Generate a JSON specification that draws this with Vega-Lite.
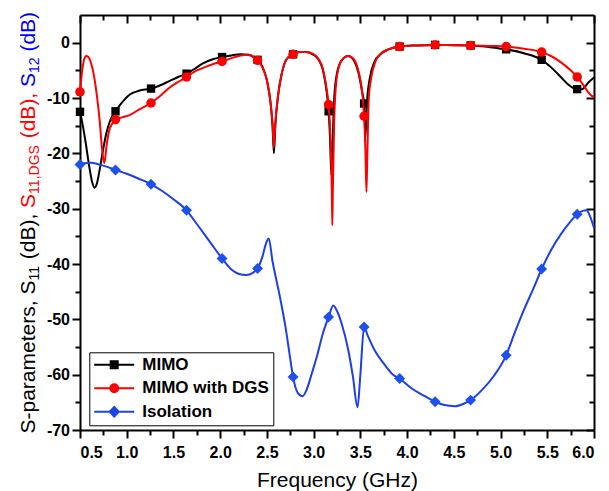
{
  "$schema": "https://vega.github.io/schema/vega-lite/v6.json",
  "autosize": {"type": "none"},
  "padding": {"left": 80, "top": 15, "right": 15, "bottom": 61},
  "width": 514,
  "height": 415,
  "background": "white",
  "config": {
    "view": {"stroke": null},
    "axis": {
      "grid": false,
      "domainColor": "black",
      "domainWidth": 2,
      "tickColor": "black",
      "tickWidth": 2,
      "labelFont": "Liberation Sans",
      "labelFontWeight": "bold",
      "labelFontSize": 16,
      "labelColor": "black",
      "titleFont": "Liberation Sans",
      "titleFontWeight": "normal",
      "titleColor": "black"
    },
    "legend": {
      "orient": "none",
      "legendX": 9.3,
      "legendY": 337.3,
      "strokeColor": "black",
      "fillColor": "white",
      "padding": 4,
      "title": null,
      "labelFont": "Liberation Sans",
      "labelFontSize": 17,
      "labelFontWeight": "bold",
      "labelColor": "black",
      "labelOffset": 32,
      "labelLimit": 400,
      "symbolSize": 100,
      "symbolStrokeWidth": 2,
      "symbolOpacity": 1,
      "rowPadding": 5.5
    }
  },
  "datasets": {
    "curves": [
      {"s": "MIMO", "f": 0.50, "v": -12.5}, {"s": "MIMO", "f": 0.53, "v": -15.0}, {"s": "MIMO", "f": 0.56, "v": -18.0},
      {"s": "MIMO", "f": 0.60, "v": -22.5}, {"s": "MIMO", "f": 0.63, "v": -25.2}, {"s": "MIMO", "f": 0.655, "v": -26.2},
      {"s": "MIMO", "f": 0.68, "v": -25.5}, {"s": "MIMO", "f": 0.71, "v": -23.0}, {"s": "MIMO", "f": 0.74, "v": -20.0},
      {"s": "MIMO", "f": 0.78, "v": -16.5}, {"s": "MIMO", "f": 0.82, "v": -14.2}, {"s": "MIMO", "f": 0.88, "v": -12.4},
      {"s": "MIMO", "f": 0.95, "v": -10.8}, {"s": "MIMO", "f": 1.03, "v": -9.4}, {"s": "MIMO", "f": 1.13, "v": -8.7},
      {"s": "MIMO", "f": 1.26, "v": -8.3}, {"s": "MIMO", "f": 1.36, "v": -7.7}, {"s": "MIMO", "f": 1.46, "v": -6.9},
      {"s": "MIMO", "f": 1.55, "v": -6.2}, {"s": "MIMO", "f": 1.64, "v": -5.6}, {"s": "MIMO", "f": 1.72, "v": -4.8},
      {"s": "MIMO", "f": 1.81, "v": -3.8}, {"s": "MIMO", "f": 1.92, "v": -3.0}, {"s": "MIMO", "f": 2.02, "v": -2.6},
      {"s": "MIMO", "f": 2.12, "v": -2.3}, {"s": "MIMO", "f": 2.22, "v": -2.1}, {"s": "MIMO", "f": 2.30, "v": -2.2},
      {"s": "MIMO", "f": 2.36, "v": -2.6}, {"s": "MIMO", "f": 2.40, "v": -3.1}, {"s": "MIMO", "f": 2.45, "v": -4.3},
      {"s": "MIMO", "f": 2.50, "v": -6.8}, {"s": "MIMO", "f": 2.54, "v": -11.0}, {"s": "MIMO", "f": 2.56, "v": -15.0},
      {"s": "MIMO", "f": 2.575, "v": -20.0}, {"s": "MIMO", "f": 2.59, "v": -15.0}, {"s": "MIMO", "f": 2.62, "v": -9.5},
      {"s": "MIMO", "f": 2.66, "v": -5.5}, {"s": "MIMO", "f": 2.71, "v": -3.0}, {"s": "MIMO", "f": 2.78, "v": -2.1},
      {"s": "MIMO", "f": 2.85, "v": -1.7}, {"s": "MIMO", "f": 2.92, "v": -1.7}, {"s": "MIMO", "f": 2.99, "v": -2.1},
      {"s": "MIMO", "f": 3.05, "v": -3.0}, {"s": "MIMO", "f": 3.10, "v": -5.0}, {"s": "MIMO", "f": 3.14, "v": -9.0},
      {"s": "MIMO", "f": 3.16, "v": -12.4}, {"s": "MIMO", "f": 3.175, "v": -17.0}, {"s": "MIMO", "f": 3.19, "v": -24.0},
      {"s": "MIMO", "f": 3.205, "v": -17.0}, {"s": "MIMO", "f": 3.22, "v": -10.0}, {"s": "MIMO", "f": 3.25, "v": -5.5},
      {"s": "MIMO", "f": 3.30, "v": -3.2}, {"s": "MIMO", "f": 3.37, "v": -2.4}, {"s": "MIMO", "f": 3.43, "v": -3.2},
      {"s": "MIMO", "f": 3.48, "v": -5.5}, {"s": "MIMO", "f": 3.52, "v": -9.0}, {"s": "MIMO", "f": 3.54, "v": -11.0},
      {"s": "MIMO", "f": 3.555, "v": -17.0}, {"s": "MIMO", "f": 3.57, "v": -11.0}, {"s": "MIMO", "f": 3.60, "v": -6.5},
      {"s": "MIMO", "f": 3.65, "v": -3.5}, {"s": "MIMO", "f": 3.72, "v": -2.0}, {"s": "MIMO", "f": 3.80, "v": -1.2},
      {"s": "MIMO", "f": 3.92, "v": -0.7}, {"s": "MIMO", "f": 4.10, "v": -0.5}, {"s": "MIMO", "f": 4.30, "v": -0.4},
      {"s": "MIMO", "f": 4.50, "v": -0.45}, {"s": "MIMO", "f": 4.68, "v": -0.5}, {"s": "MIMO", "f": 4.88, "v": -0.8},
      {"s": "MIMO", "f": 5.06, "v": -1.2}, {"s": "MIMO", "f": 5.25, "v": -1.9}, {"s": "MIMO", "f": 5.44, "v": -3.1},
      {"s": "MIMO", "f": 5.55, "v": -4.6}, {"s": "MIMO", "f": 5.65, "v": -6.3}, {"s": "MIMO", "f": 5.72, "v": -7.5},
      {"s": "MIMO", "f": 5.82, "v": -8.4}, {"s": "MIMO", "f": 5.87, "v": -8.4}, {"s": "MIMO", "f": 5.94, "v": -7.2},
      {"s": "MIMO", "f": 6.00, "v": -6.3},

      {"s": "MIMO with DGS", "f": 0.50, "v": -8.9}, {"s": "MIMO with DGS", "f": 0.52, "v": -5.5}, {"s": "MIMO with DGS", "f": 0.545, "v": -3.0},
      {"s": "MIMO with DGS", "f": 0.566, "v": -2.4}, {"s": "MIMO with DGS", "f": 0.59, "v": -2.6}, {"s": "MIMO with DGS", "f": 0.62, "v": -3.8},
      {"s": "MIMO with DGS", "f": 0.65, "v": -6.0}, {"s": "MIMO with DGS", "f": 0.68, "v": -9.5}, {"s": "MIMO with DGS", "f": 0.71, "v": -14.0},
      {"s": "MIMO with DGS", "f": 0.735, "v": -19.0}, {"s": "MIMO with DGS", "f": 0.76, "v": -21.8}, {"s": "MIMO with DGS", "f": 0.785, "v": -18.5},
      {"s": "MIMO with DGS", "f": 0.81, "v": -16.0}, {"s": "MIMO with DGS", "f": 0.85, "v": -14.5}, {"s": "MIMO with DGS", "f": 0.88, "v": -13.9},
      {"s": "MIMO with DGS", "f": 0.95, "v": -13.5}, {"s": "MIMO with DGS", "f": 1.03, "v": -13.1}, {"s": "MIMO with DGS", "f": 1.13, "v": -12.1},
      {"s": "MIMO with DGS", "f": 1.26, "v": -10.9}, {"s": "MIMO with DGS", "f": 1.36, "v": -9.6}, {"s": "MIMO with DGS", "f": 1.46, "v": -8.1},
      {"s": "MIMO with DGS", "f": 1.55, "v": -7.1}, {"s": "MIMO with DGS", "f": 1.64, "v": -6.2}, {"s": "MIMO with DGS", "f": 1.72, "v": -5.3},
      {"s": "MIMO with DGS", "f": 1.81, "v": -4.6}, {"s": "MIMO with DGS", "f": 1.92, "v": -3.9}, {"s": "MIMO with DGS", "f": 2.02, "v": -3.4},
      {"s": "MIMO with DGS", "f": 2.12, "v": -2.8}, {"s": "MIMO with DGS", "f": 2.22, "v": -2.3}, {"s": "MIMO with DGS", "f": 2.30, "v": -2.2},
      {"s": "MIMO with DGS", "f": 2.36, "v": -2.6}, {"s": "MIMO with DGS", "f": 2.40, "v": -3.2}, {"s": "MIMO with DGS", "f": 2.45, "v": -4.3},
      {"s": "MIMO with DGS", "f": 2.50, "v": -6.8}, {"s": "MIMO with DGS", "f": 2.54, "v": -11.0}, {"s": "MIMO with DGS", "f": 2.56, "v": -14.5},
      {"s": "MIMO with DGS", "f": 2.575, "v": -19.0}, {"s": "MIMO with DGS", "f": 2.59, "v": -14.5}, {"s": "MIMO with DGS", "f": 2.62, "v": -9.5},
      {"s": "MIMO with DGS", "f": 2.66, "v": -5.5}, {"s": "MIMO with DGS", "f": 2.71, "v": -3.0}, {"s": "MIMO with DGS", "f": 2.78, "v": -2.1},
      {"s": "MIMO with DGS", "f": 2.85, "v": -1.7}, {"s": "MIMO with DGS", "f": 2.92, "v": -1.7}, {"s": "MIMO with DGS", "f": 2.99, "v": -2.0},
      {"s": "MIMO with DGS", "f": 3.05, "v": -2.9}, {"s": "MIMO with DGS", "f": 3.10, "v": -4.8}, {"s": "MIMO with DGS", "f": 3.14, "v": -8.5},
      {"s": "MIMO with DGS", "f": 3.16, "v": -11.2}, {"s": "MIMO with DGS", "f": 3.18, "v": -17.0}, {"s": "MIMO with DGS", "f": 3.195, "v": -27.0},
      {"s": "MIMO with DGS", "f": 3.20, "v": -33.0}, {"s": "MIMO with DGS", "f": 3.205, "v": -27.0}, {"s": "MIMO with DGS", "f": 3.22, "v": -14.0},
      {"s": "MIMO with DGS", "f": 3.25, "v": -6.0}, {"s": "MIMO with DGS", "f": 3.30, "v": -3.2}, {"s": "MIMO with DGS", "f": 3.37, "v": -2.4},
      {"s": "MIMO with DGS", "f": 3.43, "v": -3.0}, {"s": "MIMO with DGS", "f": 3.48, "v": -5.2}, {"s": "MIMO with DGS", "f": 3.52, "v": -9.0},
      {"s": "MIMO with DGS", "f": 3.54, "v": -13.3}, {"s": "MIMO with DGS", "f": 3.555, "v": -20.0}, {"s": "MIMO with DGS", "f": 3.565, "v": -27.0},
      {"s": "MIMO with DGS", "f": 3.575, "v": -20.0}, {"s": "MIMO with DGS", "f": 3.59, "v": -10.0}, {"s": "MIMO with DGS", "f": 3.62, "v": -6.0},
      {"s": "MIMO with DGS", "f": 3.66, "v": -3.5}, {"s": "MIMO with DGS", "f": 3.72, "v": -2.0}, {"s": "MIMO with DGS", "f": 3.80, "v": -1.2},
      {"s": "MIMO with DGS", "f": 3.92, "v": -0.7}, {"s": "MIMO with DGS", "f": 4.10, "v": -0.5}, {"s": "MIMO with DGS", "f": 4.30, "v": -0.4},
      {"s": "MIMO with DGS", "f": 4.50, "v": -0.45}, {"s": "MIMO with DGS", "f": 4.68, "v": -0.5}, {"s": "MIMO with DGS", "f": 4.88, "v": -0.6},
      {"s": "MIMO with DGS", "f": 5.06, "v": -0.7}, {"s": "MIMO with DGS", "f": 5.25, "v": -1.1}, {"s": "MIMO with DGS", "f": 5.44, "v": -1.7},
      {"s": "MIMO with DGS", "f": 5.55, "v": -2.5}, {"s": "MIMO with DGS", "f": 5.65, "v": -3.6}, {"s": "MIMO with DGS", "f": 5.75, "v": -5.0},
      {"s": "MIMO with DGS", "f": 5.82, "v": -6.2}, {"s": "MIMO with DGS", "f": 5.90, "v": -8.0}, {"s": "MIMO with DGS", "f": 5.95, "v": -9.2},
      {"s": "MIMO with DGS", "f": 6.00, "v": -9.9},

      {"s": "Isolation", "f": 0.50, "v": -22.0}, {"s": "Isolation", "f": 0.55, "v": -21.8}, {"s": "Isolation", "f": 0.62, "v": -21.7},
      {"s": "Isolation", "f": 0.70, "v": -22.0}, {"s": "Isolation", "f": 0.80, "v": -22.5}, {"s": "Isolation", "f": 0.88, "v": -23.0},
      {"s": "Isolation", "f": 1.00, "v": -23.7}, {"s": "Isolation", "f": 1.13, "v": -24.6}, {"s": "Isolation", "f": 1.26, "v": -25.6},
      {"s": "Isolation", "f": 1.38, "v": -26.8}, {"s": "Isolation", "f": 1.50, "v": -28.3}, {"s": "Isolation", "f": 1.64, "v": -30.3},
      {"s": "Isolation", "f": 1.76, "v": -33.0}, {"s": "Isolation", "f": 1.89, "v": -36.0}, {"s": "Isolation", "f": 2.02, "v": -39.0},
      {"s": "Isolation", "f": 2.12, "v": -41.0}, {"s": "Isolation", "f": 2.20, "v": -41.8}, {"s": "Isolation", "f": 2.28, "v": -42.0},
      {"s": "Isolation", "f": 2.35, "v": -41.6}, {"s": "Isolation", "f": 2.40, "v": -40.8}, {"s": "Isolation", "f": 2.45, "v": -38.8},
      {"s": "Isolation", "f": 2.49, "v": -36.3}, {"s": "Isolation", "f": 2.52, "v": -35.4}, {"s": "Isolation", "f": 2.56, "v": -39.5},
      {"s": "Isolation", "f": 2.60, "v": -42.8}, {"s": "Isolation", "f": 2.64, "v": -46.0}, {"s": "Isolation", "f": 2.70, "v": -51.5},
      {"s": "Isolation", "f": 2.74, "v": -56.0}, {"s": "Isolation", "f": 2.78, "v": -60.4}, {"s": "Isolation", "f": 2.83, "v": -63.3},
      {"s": "Isolation", "f": 2.88, "v": -63.9}, {"s": "Isolation", "f": 2.93, "v": -62.5}, {"s": "Isolation", "f": 2.98, "v": -59.8},
      {"s": "Isolation", "f": 3.03, "v": -57.0}, {"s": "Isolation", "f": 3.10, "v": -52.5}, {"s": "Isolation", "f": 3.16, "v": -49.6},
      {"s": "Isolation", "f": 3.21, "v": -47.5}, {"s": "Isolation", "f": 3.25, "v": -48.5}, {"s": "Isolation", "f": 3.30, "v": -50.8},
      {"s": "Isolation", "f": 3.37, "v": -55.5}, {"s": "Isolation", "f": 3.42, "v": -60.3}, {"s": "Isolation", "f": 3.47, "v": -65.9},
      {"s": "Isolation", "f": 3.50, "v": -60.0}, {"s": "Isolation", "f": 3.54, "v": -51.4}, {"s": "Isolation", "f": 3.58, "v": -53.0},
      {"s": "Isolation", "f": 3.65, "v": -55.5}, {"s": "Isolation", "f": 3.76, "v": -58.2}, {"s": "Isolation", "f": 3.85, "v": -60.0},
      {"s": "Isolation", "f": 3.92, "v": -60.7}, {"s": "Isolation", "f": 4.05, "v": -62.5}, {"s": "Isolation", "f": 4.18, "v": -63.8},
      {"s": "Isolation", "f": 4.30, "v": -64.9}, {"s": "Isolation", "f": 4.40, "v": -65.5}, {"s": "Isolation", "f": 4.51, "v": -65.7},
      {"s": "Isolation", "f": 4.60, "v": -65.3}, {"s": "Isolation", "f": 4.68, "v": -64.6}, {"s": "Isolation", "f": 4.80, "v": -62.8},
      {"s": "Isolation", "f": 4.93, "v": -60.2}, {"s": "Isolation", "f": 5.06, "v": -56.5}, {"s": "Isolation", "f": 5.15, "v": -52.5},
      {"s": "Isolation", "f": 5.25, "v": -48.3}, {"s": "Isolation", "f": 5.35, "v": -44.5}, {"s": "Isolation", "f": 5.44, "v": -40.9},
      {"s": "Isolation", "f": 5.55, "v": -37.2}, {"s": "Isolation", "f": 5.65, "v": -34.5}, {"s": "Isolation", "f": 5.75, "v": -32.3},
      {"s": "Isolation", "f": 5.82, "v": -31.0}, {"s": "Isolation", "f": 5.88, "v": -30.4}, {"s": "Isolation", "f": 5.92, "v": -30.3},
      {"s": "Isolation", "f": 5.96, "v": -31.5}, {"s": "Isolation", "f": 6.00, "v": -33.5}
    ],
    "markers": [
      {"s": "MIMO", "f": 0.50, "v": -12.5}, {"s": "MIMO", "f": 0.88, "v": -12.4}, {"s": "MIMO", "f": 1.26, "v": -8.3},
      {"s": "MIMO", "f": 1.64, "v": -5.6}, {"s": "MIMO", "f": 2.02, "v": -2.6}, {"s": "MIMO", "f": 2.40, "v": -3.1},
      {"s": "MIMO", "f": 2.78, "v": -2.1}, {"s": "MIMO", "f": 3.16, "v": -12.4}, {"s": "MIMO", "f": 3.54, "v": -11.0},
      {"s": "MIMO", "f": 3.92, "v": -0.7}, {"s": "MIMO", "f": 4.30, "v": -0.4}, {"s": "MIMO", "f": 4.68, "v": -0.5},
      {"s": "MIMO", "f": 5.06, "v": -1.2}, {"s": "MIMO", "f": 5.44, "v": -3.1}, {"s": "MIMO", "f": 5.82, "v": -8.4},
      {"s": "MIMO with DGS", "f": 0.50, "v": -8.9}, {"s": "MIMO with DGS", "f": 0.88, "v": -13.9}, {"s": "MIMO with DGS", "f": 1.26, "v": -10.9},
      {"s": "MIMO with DGS", "f": 1.64, "v": -6.2}, {"s": "MIMO with DGS", "f": 2.02, "v": -3.4}, {"s": "MIMO with DGS", "f": 2.40, "v": -3.2},
      {"s": "MIMO with DGS", "f": 2.78, "v": -2.1}, {"s": "MIMO with DGS", "f": 3.16, "v": -11.2}, {"s": "MIMO with DGS", "f": 3.54, "v": -13.3},
      {"s": "MIMO with DGS", "f": 3.92, "v": -0.7}, {"s": "MIMO with DGS", "f": 4.30, "v": -0.4}, {"s": "MIMO with DGS", "f": 4.68, "v": -0.5},
      {"s": "MIMO with DGS", "f": 5.06, "v": -0.7}, {"s": "MIMO with DGS", "f": 5.44, "v": -1.7}, {"s": "MIMO with DGS", "f": 5.82, "v": -6.2},
      {"s": "Isolation", "f": 0.50, "v": -22.0}, {"s": "Isolation", "f": 0.88, "v": -23.0}, {"s": "Isolation", "f": 1.26, "v": -25.6},
      {"s": "Isolation", "f": 1.64, "v": -30.3}, {"s": "Isolation", "f": 2.02, "v": -39.0}, {"s": "Isolation", "f": 2.40, "v": -40.8},
      {"s": "Isolation", "f": 2.78, "v": -60.4}, {"s": "Isolation", "f": 3.16, "v": -49.6}, {"s": "Isolation", "f": 3.54, "v": -51.4},
      {"s": "Isolation", "f": 3.92, "v": -60.7}, {"s": "Isolation", "f": 4.30, "v": -64.9}, {"s": "Isolation", "f": 4.68, "v": -64.6},
      {"s": "Isolation", "f": 5.06, "v": -56.5}, {"s": "Isolation", "f": 5.44, "v": -40.9}, {"s": "Isolation", "f": 5.82, "v": -31.0}
    ]
  },
  "resolve": {"axis": {"x": "independent", "y": "independent"}},
  "layer": [
    {
      "data": {"name": "curves"},
      "transform": [{"filter": "datum.s === 'MIMO'"}],
      "mark": {"type": "line", "color": "black", "strokeWidth": 2, "interpolate": "monotone"},
      "encoding": {
        "x": {"field": "f", "type": "quantitative", "scale": {"domain": [0.5, 6], "nice": false, "zero": false},
          "axis": {"orient": "bottom", "values": [0.5, 1, 1.5, 2, 2.5, 3, 3.5, 4, 4.5, 5, 5.5, 6], "labelExpr": "format(datum.value, '.1f')", "tickSize": 8, "labelPadding": 6, "domain": true,
            "title": "Frequency (GHz)", "titleFontSize": 21, "titleY": 56, "titleBaseline": "alphabetic"}},
        "y": {"field": "v", "type": "quantitative", "scale": {"domain": [-70, 5], "nice": false, "zero": false},
          "axis": {"orient": "left", "values": [-70, -60, -50, -40, -30, -20, -10, 0], "labelExpr": "'' + datum.value", "tickSize": 8, "labelPadding": 2.5, "domain": true,
            "title": "S-parameters, S", "titleFontSize": 21, "titleColor": "black", "titleAngle": 270, "titleAlign": "left", "titleBaseline": "alphabetic", "titleX": -46, "titleY": 418}}
      }
    },
    {
      "data": {"name": "markers"},
      "transform": [{"filter": "datum.s === 'MIMO'"}],
      "mark": {"type": "point", "shape": "square", "filled": true, "color": "black", "opacity": 1, "size": 70},
      "encoding": {
        "x": {"field": "f", "type": "quantitative", "scale": {"domain": [0.5, 6], "nice": false, "zero": false},
          "axis": {"orient": "bottom", "values": [0.75, 1.25, 1.75, 2.25, 2.75, 3.25, 3.75, 4.25, 4.75, 5.25, 5.75], "labels": false, "tickSize": 5, "domain": false, "title": null}},
        "y": {"field": "v", "type": "quantitative", "scale": {"domain": [-70, 5], "nice": false, "zero": false},
          "axis": {"orient": "left", "values": [-65, -55, -45, -35, -25, -15, -5], "labels": false, "tickSize": 5, "domain": false,
            "title": "11", "titleFontSize": 14, "titleColor": "black", "titleAngle": 270, "titleAlign": "left", "titleBaseline": "alphabetic", "titleX": -42, "titleY": 265.1}}
      }
    },
    {
      "data": {"name": "curves"},
      "transform": [{"filter": "datum.s === 'MIMO with DGS'"}],
      "mark": {"type": "line", "color": "#ff0000", "strokeWidth": 2, "interpolate": "monotone"},
      "encoding": {
        "x": {"field": "f", "type": "quantitative", "scale": {"domain": [0.5, 6], "nice": false, "zero": false},
          "axis": {"orient": "top", "values": [0.5, 1, 1.5, 2, 2.5, 3, 3.5, 4, 4.5, 5, 5.5, 6], "labels": false, "tickSize": -8, "domain": true, "title": null}},
        "y": {"field": "v", "type": "quantitative", "scale": {"domain": [-70, 5], "nice": false, "zero": false},
          "axis": {"orient": "right", "values": [-70, -60, -50, -40, -30, -20, -10, 0], "labels": false, "tickSize": -8, "domain": true, "title": null}}
      }
    },
    {
      "data": {"name": "markers"},
      "transform": [{"filter": "datum.s === 'MIMO with DGS'"}],
      "mark": {"type": "point", "shape": "circle", "filled": true, "color": "#ff0000", "opacity": 1, "size": 90},
      "encoding": {
        "x": {"field": "f", "type": "quantitative", "scale": {"domain": [0.5, 6], "nice": false, "zero": false},
          "axis": {"orient": "top", "values": [0.75, 1.25, 1.75, 2.25, 2.75, 3.25, 3.75, 4.25, 4.75, 5.25, 5.75], "labels": false, "tickSize": -5, "domain": false, "title": null}},
        "y": {"field": "v", "type": "quantitative", "scale": {"domain": [-70, 5], "nice": false, "zero": false},
          "axis": {"orient": "right", "values": [-65, -55, -45, -35, -25, -15, -5], "labels": false, "tickSize": -5, "domain": false, "title": null}}
      }
    },
    {
      "data": {"name": "curves"},
      "transform": [{"filter": "datum.s === 'Isolation'"}],
      "mark": {"type": "line", "color": "#1e3ee6", "strokeWidth": 2, "interpolate": "monotone"},
      "encoding": {
        "x": {"field": "f", "type": "quantitative", "scale": {"domain": [0.5, 6], "nice": false, "zero": false}, "axis": null},
        "y": {"field": "v", "type": "quantitative", "scale": {"domain": [-70, 5], "nice": false, "zero": false},
          "axis": {"orient": "left", "labels": false, "ticks": false, "domain": false,
            "title": "(dB),", "titleFontSize": 21, "titleColor": "black", "titleAngle": 270, "titleAlign": "left", "titleBaseline": "alphabetic", "titleX": -46, "titleY": 243.7}}
      }
    },
    {
      "data": {"name": "markers"},
      "transform": [{"filter": "datum.s === 'Isolation'"}],
      "mark": {"type": "point", "shape": "diamond", "filled": true, "color": "#1e50ee", "opacity": 1, "size": 120},
      "encoding": {
        "x": {"field": "f", "type": "quantitative", "scale": {"domain": [0.5, 6], "nice": false, "zero": false}, "axis": null},
        "y": {"field": "v", "type": "quantitative", "scale": {"domain": [-70, 5], "nice": false, "zero": false},
          "axis": {"orient": "left", "labels": false, "ticks": false, "domain": false,
            "title": "S", "titleFontSize": 21, "titleColor": "#ff0000", "titleAngle": 270, "titleAlign": "left", "titleBaseline": "alphabetic", "titleX": -46, "titleY": 192.4}}
      }
    },
    {
      "data": {"name": "markers"},
      "transform": [{"filter": "datum.f === 0.5"}],
      "mark": {"type": "point", "filled": true, "opacity": 0},
      "encoding": {
        "x": {"field": "f", "type": "quantitative", "scale": {"domain": [0.5, 6], "nice": false, "zero": false}, "axis": null},
        "y": {"field": "v", "type": "quantitative", "scale": {"domain": [-70, 5], "nice": false, "zero": false},
          "axis": {"orient": "left", "labels": false, "ticks": false, "domain": false,
            "title": "11,DGS", "titleFontSize": 14, "titleColor": "#ff0000", "titleAngle": 270, "titleAlign": "left", "titleBaseline": "alphabetic", "titleX": -42, "titleY": 178.4}},
        "fill": {"field": "s", "type": "nominal", "scale": {"domain": ["MIMO", "MIMO with DGS", "Isolation"], "range": ["black", "#ff0000", "#1e44ea"]}},
        "stroke": {"field": "s", "type": "nominal", "scale": {"domain": ["MIMO", "MIMO with DGS", "Isolation"], "range": ["black", "#ff0000", "#1e44ea"]}},
        "shape": {"field": "s", "type": "nominal", "scale": {"domain": ["MIMO", "MIMO with DGS", "Isolation"], "range": [
          "M-1.52,0H6.48M1.78,-0.7H3.18V0.7H1.78Z",
          "M-1.52,0H6.48M3.28,0A0.8,0.8,0,1,1,1.68,0A0.8,0.8,0,1,1,3.28,0Z",
          "M-1.52,0H6.48M2.48,-0.95L3.38,0L2.48,0.95L1.58,0Z"
        ]}}
      }
    },
    {
      "data": {"name": "markers"},
      "mark": {"type": "point", "opacity": 0},
      "encoding": {
        "x": {"field": "f", "type": "quantitative", "scale": {"domain": [0.5, 6], "nice": false, "zero": false}, "axis": null},
        "y": {"field": "v", "type": "quantitative", "scale": {"domain": [-70, 5], "nice": false, "zero": false},
          "axis": {"orient": "left", "labels": false, "ticks": false, "domain": false,
            "title": "(dB),", "titleFontSize": 21, "titleColor": "#ff0000", "titleAngle": 270, "titleAlign": "left", "titleBaseline": "alphabetic", "titleX": -46, "titleY": 122.8}}
      }
    },
    {
      "data": {"name": "markers"},
      "mark": {"type": "point", "opacity": 0},
      "encoding": {
        "x": {"field": "f", "type": "quantitative", "scale": {"domain": [0.5, 6], "nice": false, "zero": false}, "axis": null},
        "y": {"field": "v", "type": "quantitative", "scale": {"domain": [-70, 5], "nice": false, "zero": false},
          "axis": {"orient": "left", "labels": false, "ticks": false, "domain": false,
            "title": "S", "titleFontSize": 21, "titleColor": "#0000ff", "titleAngle": 270, "titleAlign": "left", "titleBaseline": "alphabetic", "titleX": -46, "titleY": 71.5}}
      }
    },
    {
      "data": {"name": "markers"},
      "mark": {"type": "point", "opacity": 0},
      "encoding": {
        "x": {"field": "f", "type": "quantitative", "scale": {"domain": [0.5, 6], "nice": false, "zero": false}, "axis": null},
        "y": {"field": "v", "type": "quantitative", "scale": {"domain": [-70, 5], "nice": false, "zero": false},
          "axis": {"orient": "left", "labels": false, "ticks": false, "domain": false,
            "title": "12", "titleFontSize": 14, "titleColor": "#0000ff", "titleAngle": 270, "titleAlign": "left", "titleBaseline": "alphabetic", "titleX": -42, "titleY": 57.5}}
      }
    },
    {
      "data": {"name": "markers"},
      "mark": {"type": "point", "opacity": 0},
      "encoding": {
        "x": {"field": "f", "type": "quantitative", "scale": {"domain": [0.5, 6], "nice": false, "zero": false}, "axis": null},
        "y": {"field": "v", "type": "quantitative", "scale": {"domain": [-70, 5], "nice": false, "zero": false},
          "axis": {"orient": "left", "labels": false, "ticks": false, "domain": false,
            "title": "(dB)", "titleFontSize": 21, "titleColor": "#0000ff", "titleAngle": 270, "titleAlign": "left", "titleBaseline": "alphabetic", "titleX": -46, "titleY": 36.1}}
      }
    }
  ]
}
